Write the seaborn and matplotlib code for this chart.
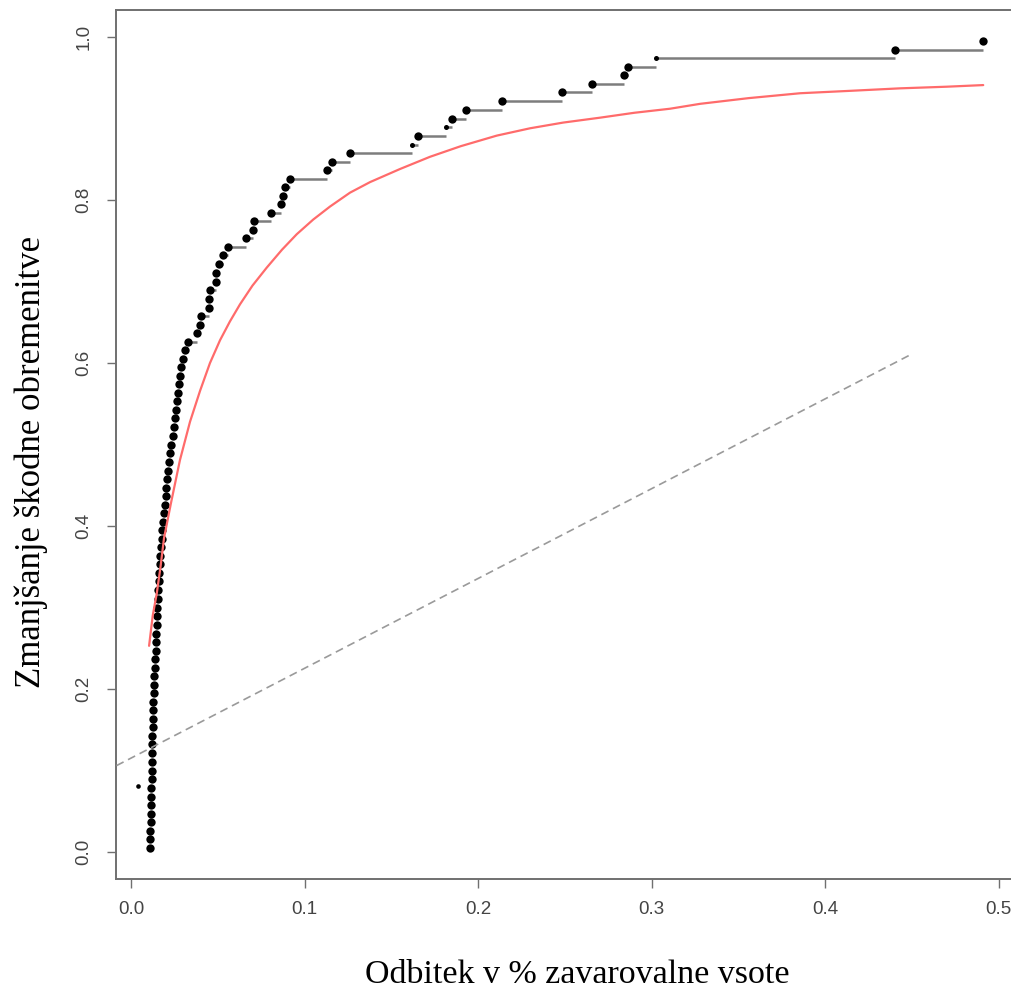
import matplotlib
matplotlib.use("Agg")
import matplotlib.pyplot as plt
import numpy as np
import pandas as pd
import seaborn as sns

# ---------------- data ----------------
x_emp = [0.0110, 0.0111, 0.0112, 0.0113, 0.0114, 0.0115, 0.0116, 0.0117, 0.0118, 0.0119,
         0.0120, 0.0121, 0.0122, 0.0123, 0.0124, 0.0125, 0.0127, 0.0129, 0.0131, 0.0133,
         0.0135, 0.0137, 0.0139, 0.0141, 0.0143, 0.0146, 0.0148, 0.0150, 0.0152, 0.0154,
         0.0156, 0.0159, 0.0162, 0.0165, 0.0168, 0.0172, 0.0176, 0.0180, 0.0184, 0.0189,
         0.0194, 0.0199, 0.0204, 0.0209, 0.0214, 0.0220, 0.0226, 0.0233, 0.0240, 0.0246,
         0.0252, 0.0258, 0.0264, 0.0270, 0.0276, 0.0283, 0.0290, 0.0298, 0.0310, 0.0330,
         0.0380, 0.0398, 0.0405, 0.0450, 0.0452, 0.0454, 0.0490, 0.0492, 0.0505, 0.0530,
         0.0557, 0.0663, 0.0705, 0.0708, 0.0805, 0.0863, 0.0874, 0.0888, 0.0916, 0.1128,
         0.1157, 0.1262, 0.1618, 0.1652, 0.1816, 0.1852, 0.1931, 0.2136, 0.2482, 0.2658,
         0.2841, 0.2862, 0.3026, 0.4403, 0.4912]
y_emp = [0.005, 0.016, 0.026, 0.037, 0.047, 0.058, 0.068, 0.079, 0.089, 0.100,
         0.111, 0.121, 0.132, 0.142, 0.153, 0.163, 0.174, 0.184, 0.195, 0.205,
         0.216, 0.226, 0.237, 0.247, 0.258, 0.268, 0.279, 0.289, 0.300, 0.311,
         0.321, 0.332, 0.342, 0.353, 0.363, 0.374, 0.384, 0.395, 0.405, 0.416,
         0.426, 0.437, 0.447, 0.458, 0.468, 0.479, 0.489, 0.500, 0.511, 0.521,
         0.532, 0.542, 0.553, 0.563, 0.574, 0.584, 0.595, 0.605, 0.616, 0.626,
         0.637, 0.647, 0.658, 0.668, 0.679, 0.689, 0.700, 0.711, 0.721, 0.732,
         0.742, 0.753, 0.763, 0.774, 0.784, 0.795, 0.805, 0.816, 0.826, 0.837,
         0.847, 0.858, 0.868, 0.879, 0.889, 0.900, 0.911, 0.921, 0.932, 0.942,
         0.953, 0.963, 0.974, 0.984, 0.995]
small_idx = [82, 84, 92]          # points drawn with a smaller symbol

x_extra = [0.0042]
y_extra = [0.081]

x_fit = [0.0104, 0.0125, 0.0148, 0.0170, 0.0190, 0.0230, 0.0282, 0.0340, 0.0398, 0.0455,
         0.0513, 0.0570, 0.0628, 0.0700, 0.0782, 0.0870, 0.0955, 0.1050, 0.1147, 0.1262,
         0.1378, 0.1550, 0.1723, 0.1900, 0.2108, 0.2300, 0.2491, 0.2703, 0.2900, 0.3107,
         0.3280, 0.3560, 0.3857, 0.4150, 0.4432, 0.4700, 0.4912]
y_fit = [0.253, 0.290, 0.317, 0.350, 0.385, 0.428, 0.481, 0.528, 0.566, 0.600,
         0.628, 0.651, 0.672, 0.695, 0.717, 0.739, 0.758, 0.776, 0.792, 0.809,
         0.822, 0.838, 0.853, 0.866, 0.879, 0.888, 0.895, 0.901, 0.907, 0.912,
         0.918, 0.925, 0.931, 0.934, 0.937, 0.939, 0.941]

x_ref = [-0.0084, 0.450]
y_ref = [0.106, 0.611]

x_ticks = [0.0, 0.1, 0.2, 0.3, 0.4, 0.5]
x_tick_labels = ["0.0", "0.1", "0.2", "0.3", "0.4", "0.5"]
y_ticks = [0.0, 0.2, 0.4, 0.6, 0.8, 1.0]
y_tick_labels = ["0.0", "0.2", "0.4", "0.6", "0.8", "1.0"]
x_label = "Odbitek v % zavarovalne vsote"
y_label = "Zmanjšanje škodne obremenitve"

# ---------------- figure ----------------
sns.set_style("white")
plt.rcParams["font.family"] = ["Liberation Serif", "DejaVu Serif"]

fig = plt.figure(figsize=(10.11, 9.92), dpi=100)
ax = fig.add_axes([0.1152, 0.1139, 0.8848, 0.8760])

df_emp = pd.DataFrame({"x": x_emp, "y": y_emp})
is_small = np.zeros(len(df_emp), dtype=bool)
is_small[small_idx] = True

# step segments
ax.hlines(df_emp["y"].values[:-1], df_emp["x"].values[:-1], df_emp["x"].values[1:],
          colors="#7d7d7d", linewidth=1.8, zorder=2)

sns.scatterplot(data=df_emp[~is_small], x="x", y="y", s=36, color="black",
                linewidth=0, ax=ax, zorder=3, legend=False)
sns.scatterplot(data=df_emp[is_small], x="x", y="y", s=13, color="black",
                linewidth=0, ax=ax, zorder=3, legend=False)
sns.scatterplot(x=x_extra, y=y_extra, s=11, color="black", linewidth=0,
                ax=ax, zorder=3, legend=False)

sns.lineplot(x=x_fit, y=y_fit, sort=False, estimator=None, color="#ff6b6b",
             linewidth=1.6, ax=ax, zorder=4)
ax.plot(x_ref, y_ref, linestyle=(0, (4.8, 3.0)), color="#9a9a9a", linewidth=1.2, zorder=4)

ax.set_xlim(-0.0084, 0.5072)
ax.set_ylim(-0.0331, 1.0331)

ax.set_xticks(x_ticks)
ax.set_xticklabels(x_tick_labels)
ax.set_yticks(y_ticks)
ax.set_yticklabels(y_tick_labels, rotation=90, va="center")

tick_font = ["Liberation Sans Narrow", "Liberation Sans", "DejaVu Sans"]
for lab in ax.get_xticklabels() + ax.get_yticklabels():
    lab.set_family(tick_font)
    lab.set_fontsize(13.5)
    lab.set_color("#444444")

ax.tick_params(axis="both", direction="out", length=6.5, width=1.0, color="#707070")
ax.tick_params(axis="x", pad=9, bottom=True)
ax.tick_params(axis="y", pad=11, left=True)

for side in ["left", "bottom", "top"]:
    ax.spines[side].set_color("#707070")
    ax.spines[side].set_linewidth(1.4)
ax.spines["right"].set_visible(False)

ax.set_xlabel(x_label, fontsize=24.5, color="black")
ax.set_ylabel(y_label, fontsize=25, color="black")
ax.xaxis.label.set_va("center")
ax.yaxis.label.set_va("center")
ax.xaxis.set_label_coords(0.515, -0.110)
ax.yaxis.set_label_coords(-0.095, 0.480)

fig.savefig("out.png", dpi=100)
